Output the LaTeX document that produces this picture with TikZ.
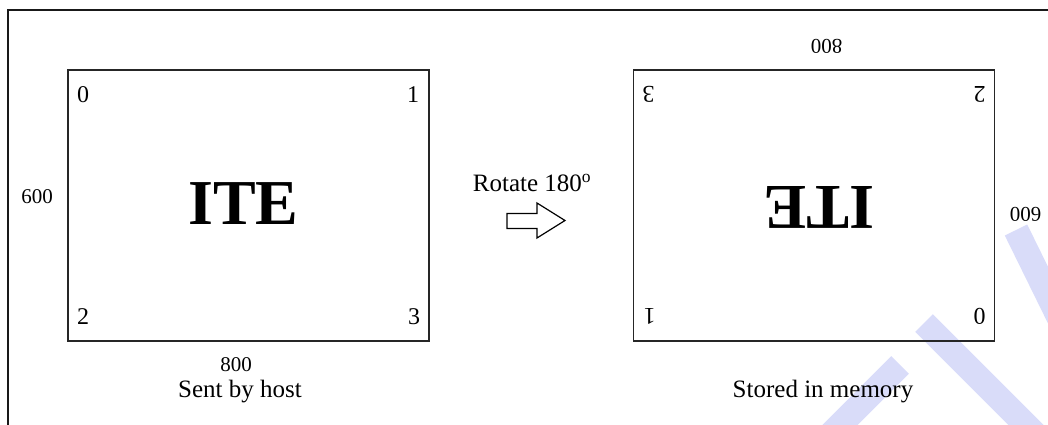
\documentclass[tikz,border=0pt]{standalone}
\usepackage{fontspec}
\setmainfont{Liberation Serif}
\begin{document}
\begin{tikzpicture}[x=1pt,y=-1pt,
  box/.style={draw=black!85, line width=1.6pt, minimum width=361pt, minimum height=271pt, inner sep=0pt},
  corner/.style={font=\fontsize{24}{28}\selectfont, inner sep=0pt},
  dimlabel/.style={font=\fontsize{21}{25}\selectfont, inner sep=0pt},
  caption/.style={font=\fontsize{25}{30}\selectfont, inner sep=0pt},
  bigtext/.style={font=\bfseries\fontsize{64}{70}\selectfont, inner sep=0pt},
  wm/.style={draw=wmblue, line width=25pt, line cap=butt},
  frame/.style={draw=black!90, line width=2pt}
]
\definecolor{wmblue}{RGB}{217,220,249}
\useasboundingbox (0,0) rectangle (1048,425);
% watermark
\draw[wm] (924,323) -- (1065,464);
\draw[wm] (900,365) -- (830,435);
\draw[wm] (1016,230) -- (1075,350);
% frame
\draw[frame] (1052,10) -- (8,10) -- (8,429);
% left image
\node[box] (L) at (248.5,205.5) {};
\node[corner] (l0) at (83,95) {0};
\node[corner] (l1) at (413,95) {1};
\node[corner] (l2) at (83,317) {2};
\node[corner] (l3) at (414,317) {3};
\node[bigtext] (lite) at (243.5,204) {ITE};
\node[dimlabel] (lh) at (37,197) {600};
\node[dimlabel] (lw) at (236,365) {800};
\node[caption] (lcap) at (240,392) {Sent by host};
% right image (rotated 180)
\node[box] (R) at (814,205.5) {};
\node[corner, rotate=180] (r0) at (979.5,316) {0};
\node[corner, rotate=180] (r1) at (649.5,316) {1};
\node[corner, rotate=180] (r2) at (979.5,94) {2};
\node[corner, rotate=180] (r3) at (648.5,94) {3};
\node[bigtext, rotate=180] (rite) at (819,207) {ITE};
\node[dimlabel, rotate=180] (rh) at (1025.5,214) {600};
\node[dimlabel, rotate=180] (rw) at (826.5,46) {800};
\node[caption] (rcap) at (823,392) {Stored in memory};
% arrow
\node[caption] (rot) at (532,183) {Rotate 180\textsuperscript{o}};
\draw[line width=1.2pt, line join=miter] (507,213.5) -- (537,213.5) -- (537,203) -- (565,220.5) -- (537,238) -- (537,228.5) -- (507,228.5) -- cycle;
\end{tikzpicture}
\end{document}
